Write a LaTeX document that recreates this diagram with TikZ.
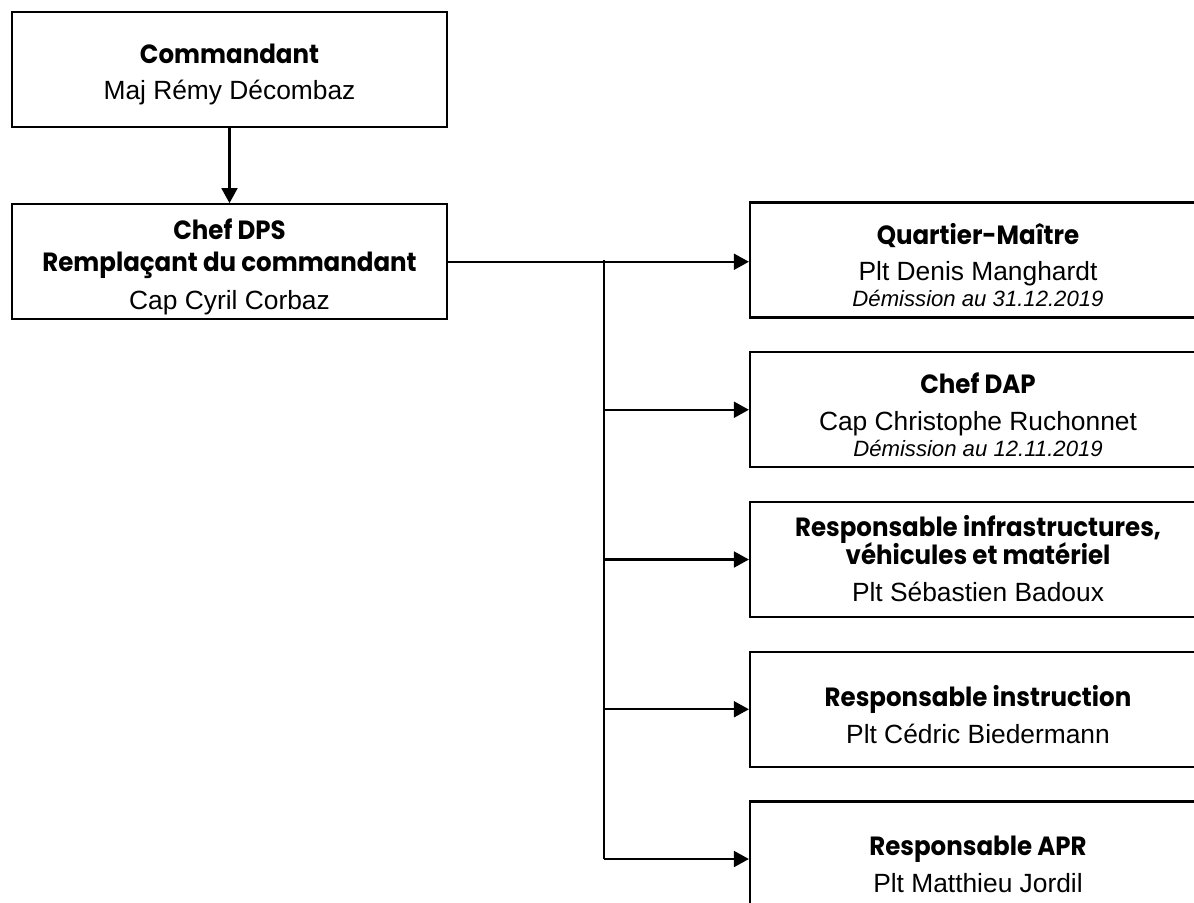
\documentclass[tikz,border=0pt]{standalone}
\usepackage{fontspec}
\setmainfont{Liberation Sans}
\newfontfamily\rolefont{Poppins}[FakeStretch=0.93]
\usetikzlibrary{positioning,arrows.meta}
\newcommand{\role}[1]{{\rolefont\bfseries #1}}
\newcommand{\resign}[1]{{\itshape\fontsize{12.6}{15}\selectfont #1}}

\begin{document}
\begin{tikzpicture}[x=0.02cm,y=-0.02cm,
	font=\fontsize{15}{21}\selectfont,
	chief/.style={draw,line width=1.3pt,minimum width=8.7cm,minimum height=2.3cm,inner sep=0pt},
	post/.style={draw,line width=1.3pt,minimum width=9.12cm,minimum height=2.3cm,inner sep=0pt},
	boxtext/.style={align=center,inner sep=0pt,yshift=-0.1cm},
	link/.style={line width=1.3pt,-{Triangle[length=8.5pt,width=9pt]}}]
	\useasboundingbox (0,0) rectangle (1194,903);
	\clip (0,0) rectangle (1194,903);
	% command
	\node[chief] (cmd) at (229.5,69.5) {};
	\node[chief,below=1.5cm of cmd] (dps) {};
	\node[boxtext] (cmdtext) at (cmd) {\role{Commandant}\\Maj Rémy Décombaz};
	\node[boxtext] (dpstext) at (dps)
	  {\role{Chef DPS}\\[-2.3pt]\role{Remplaçant du commandant}\\[0.5pt]Cap Cyril Corbaz};
	% posts
	\node[post] (qm) at (978,260) {};
	\node[post,below=0.65cm of qm] (dap) {};
	\node[post,below=0.65cm of dap] (infra) {};
	\node[post,below=0.65cm of infra] (instr) {};
	\node[post,below=0.65cm of instr] (apr) {};
	\node[boxtext] (qmtext) at (qm)
	  {\role{Quartier-Maître}\\Plt Denis Manghardt\\[-6.3pt]\resign{Démission au 31.12.2019}};
	\node[boxtext] (daptext) at (dap)
	  {\role{Chef DAP}\\Cap Christophe Ruchonnet\\[-6.3pt]\resign{Démission au 12.11.2019}};
	\node[boxtext,yshift=0.12cm] (infratext) at (infra)
	  {\role{Responsable infrastructures,}\\[-4.6pt]\role{véhicules et matériel}\\Plt Sébastien Badoux};
	\node[boxtext] (instrtext) at (instr)
	  {\role{Responsable instruction}\\Plt Cédric Biedermann};
	\node[boxtext] (aprtext) at (apr)
	  {\role{Responsable APR}\\Plt Matthieu Jordil};
	% links
	\coordinate (trunk) at (604,260);
	\draw[link] (cmd) -- (dps);
	\draw[link] (dps.east) -- (dps.east -| qm.west);
	\draw[line width=1.3pt] (trunk) -- (trunk |- apr.west);
	\draw[link] (trunk |- dap.west) -- (dap.west);
	\draw[link] (trunk |- infra.west) -- (infra.west);
	\draw[link] (trunk |- instr.west) -- (instr.west);
	\draw[link] (trunk |- apr.west) -- (apr.west);
\end{tikzpicture}
\end{document}
